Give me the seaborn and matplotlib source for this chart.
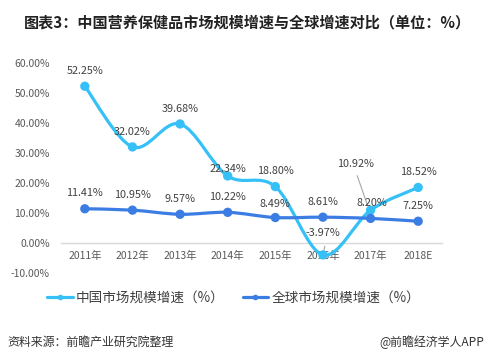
import numpy as np
import matplotlib
matplotlib.use('Agg')
import matplotlib.pyplot as plt
from matplotlib.path import Path
from matplotlib.patches import PathPatch
from matplotlib.lines import Line2D
from matplotlib.ticker import FuncFormatter
import seaborn as sns

years = ['2011年', '2012年', '2013年', '2014年', '2015年', '2016年', '2017年', '2018E']
china_growth = [52.25, 32.02, 39.68, 22.34, 18.80, -3.97, 10.92, 18.52]
global_growth = [11.41, 10.95, 9.57, 10.22, 8.49, 8.61, 8.20, 7.25]
yticks = [-10, 0, 10, 20, 30, 40, 50, 60]

CHINA_COLOR = '#35C1F7'
GLOBAL_COLOR = '#3C7DE4'
TEXT_COLOR = '#404040'


def smooth_path(xs, ys):
    """Catmull-Rom style bezier path through the data points (like Excel smoothing)"""
    pts = np.column_stack([xs, ys]).astype(float)
    n = len(pts)
    verts = [pts[0]]
    codes = [Path.MOVETO]
    for i in range(n - 1):
        p0 = pts[i - 1] if i > 0 else pts[i]
        p1 = pts[i]
        p2 = pts[i + 1]
        p3 = pts[i + 2] if i + 2 < n else pts[i + 1]
        c1 = p1 + (p2 - p0) / 6.0
        c2 = p2 - (p3 - p1) / 6.0
        verts += [c1, c2, p2]
        codes += [Path.CURVE4] * 3
    return Path(verts, codes)


sns.set_theme(style='white')
plt.rcParams['font.family'] = ['Noto Sans CJK SC', 'DejaVu Sans']
plt.rcParams['axes.unicode_minus'] = False

fig = plt.figure(figsize=(4.94, 3.6), dpi=100)
ax = fig.add_axes([0.1235, 0.2417, 0.7712, 0.5833])

x = np.arange(len(years))

for vals, color in [(china_growth, CHINA_COLOR), (global_growth, GLOBAL_COLOR)]:
    patch = PathPatch(smooth_path(x, vals), facecolor='none', edgecolor=color,
                      lw=2.3, capstyle='round', joinstyle='round', zorder=3)
    ax.add_patch(patch)
    sns.scatterplot(x=x, y=vals, color=color, s=45, edgecolor='none', ax=ax, zorder=4)

ax.set_xlim(-0.5, len(years) - 0.5)
ax.set_ylim(-10, 60)
ax.set_yticks(yticks)
ax.yaxis.set_major_formatter(FuncFormatter(lambda v, p: f'{v:.2f}%'))
ax.set_xticks(x)
ax.set_xticklabels(years)
ax.tick_params(axis='both', length=0, labelsize=7.5, labelcolor='#595959')
ax.tick_params(axis='y', pad=8)
ax.tick_params(axis='x', pad=6)

for s in ['top', 'right', 'left']:
    ax.spines[s].set_visible(False)
ax.spines['bottom'].set_position(('data', 0))
ax.spines['bottom'].set_color('#D9D9D9')
ax.spines['bottom'].set_linewidth(1.0)

# data labels (offsets in points)
china_offsets = [(0, 11), (0, 11), (0, 11), (0, 5), (0, 11), (0, 16), (-11, 33), (0, 11)]
global_offsets = [(0, 11), (0, 11), (0, 11), (0, 11), (0, 10), (0, 11), (1, 11), (0, 11)]
for i in range(len(years)):
    dx, dy = china_offsets[i]
    ax.annotate(f'{china_growth[i]:.2f}%', (x[i], china_growth[i]), xytext=(dx, dy),
                textcoords='offset points', ha='center', va='center',
                fontsize=7.8, color=TEXT_COLOR, zorder=5)
    dx, dy = global_offsets[i]
    ax.annotate(f'{global_growth[i]:.2f}%', (x[i], global_growth[i]), xytext=(dx, dy),
                textcoords='offset points', ha='center', va='center',
                fontsize=7.8, color=TEXT_COLOR, zorder=5)

# leader lines for moved labels
ax.annotate('', xy=(x[5], china_growth[5] - 0.5), xytext=(x[5] + 0.05, china_growth[5] + 3.8),
            arrowprops=dict(arrowstyle='-', color='#A6A6A6', lw=0.8))
ax.annotate('', xy=(x[6] - 0.04, china_growth[6] + 0.6), xytext=(x[6] - 0.3, china_growth[6] + 12.4),
            arrowprops=dict(arrowstyle='-', color='#A6A6A6', lw=0.8))

handles = [
    Line2D([0], [0], color=CHINA_COLOR, lw=2.3, marker='o', markersize=3),
    Line2D([0], [0], color=GLOBAL_COLOR, lw=2.3, marker='o', markersize=3),
]
fig.legend(handles, ['中国市场规模增速（%）', '全球市场规模增速（%）'],
           loc='center', bbox_to_anchor=(0.473, 0.172), ncol=2, frameon=False,
           fontsize=9.8, handlelength=1.9, handletextpad=0.25, columnspacing=1.3,
           labelcolor=TEXT_COLOR, borderpad=0)

fig.text(0.501, 0.938, '图表3：中国营养保健品市场规模增速与全球增速对比（单位：%）',
         ha='center', va='center', fontsize=10.9, fontweight='bold', color='#222222')
fig.text(0.016, 0.05, '资料来源：前瞻产业研究院整理', ha='left', va='center',
         fontsize=8.6, style='italic', color='#333333')
fig.text(0.98, 0.05, '@前瞻经济学人APP', ha='right', va='center',
         fontsize=8.6, color='#333333')

fig.savefig('out.png', dpi=100)
